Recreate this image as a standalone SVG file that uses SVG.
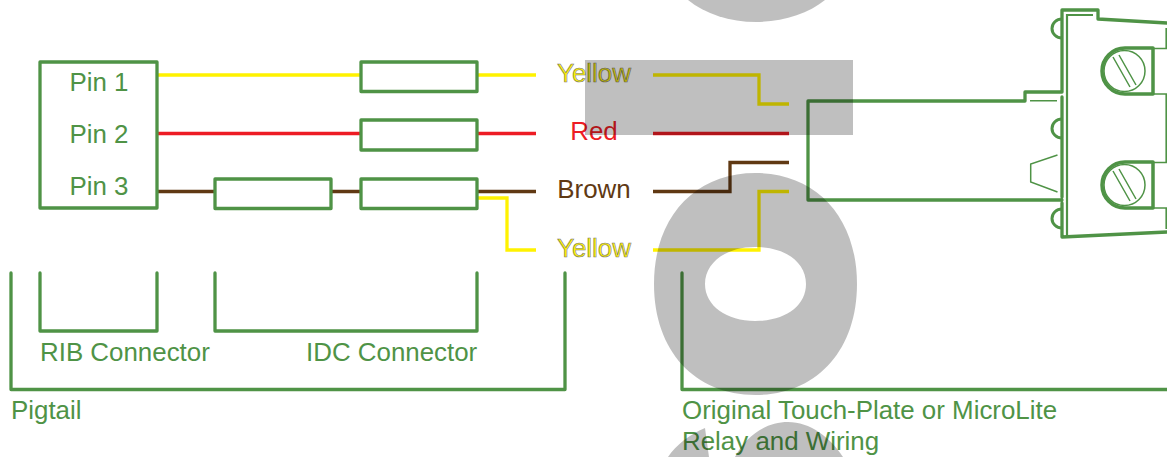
<svg xmlns="http://www.w3.org/2000/svg" width="1167" height="457" viewBox="0 0 1167 457">
<defs>
<g id="screw">
<path class="g4" d="M1153 -23H1125A23 23 0 0 0 1125 23H1153Z"/>
<circle class="t" cx="1124.500" cy="0" r="20.500"/>
<path class="t" d="M1113 -14L1130 16M1119 -16L1136 14"/>
<path class="t" d="M1153 -22.500H1167M1153 23H1167"/>
</g>
</defs>
<style>
text{font-family:"Liberation Sans",Arial,sans-serif;font-size:25.900px;fill:#4f9346}
.c{text-anchor:middle}
.box,.g{fill:none;stroke:#4f9346;stroke-width:3.300;stroke-linejoin:round;stroke-linecap:round}
.g4{fill:none;stroke:#4f9346;stroke-width:3.500;stroke-linejoin:round}
.t{fill:none;stroke:#4f9346;stroke-width:1.500}
.m{fill:none;stroke:#4f9346;stroke-width:2.200}
.w{fill:none;stroke-width:3.300}
.y{stroke:#fff200}.r{stroke:#ed1c24}.b{stroke:#603913}
.wm{fill:#000;fill-opacity:.25}
</style>
<rect width="1167" height="457" fill="#fff"/>
<g id="connectors">
<path class="w y" d="M158 75H361M477 75H536M653 75H759V104H789"/>
<path class="w r" d="M158 133.500H361M477 133.500H536M653 133.500H789"/>
<path class="w b" d="M158 191.500H215M331 191.500H361M477 191.500H536M653 191.500H730V162.500H789"/>
<path class="w y" d="M477 198H507V250H536M653 250H759V191.500H789"/>
</g>
<g id="rib"><rect class="box" x="40" y="62" width="117" height="146"/>
<text class="c" x="99" y="91">Pin 1</text><text class="c" x="99" y="143">Pin 2</text><text class="c" x="99" y="195">Pin 3</text></g>
<g id="idc1"><rect class="box" x="361" y="62" width="116" height="29.500"/></g>
<g id="idc2"><rect class="box" x="361" y="120" width="116" height="30"/></g>
<g id="idc3"><rect class="box" x="361" y="179" width="116" height="29.500"/></g>
<g id="idc4"><rect class="box" x="215" y="179" width="116" height="29.500"/></g>
<g id="labels">
<text class="c" x="594" y="82" style="fill:#fff200;stroke:#777;stroke-width:.6">Yellow</text>
<text class="c" x="594" y="140" style="fill:#ed1c24">Red</text>
<text class="c" x="594" y="198" style="fill:#603913">Brown</text>
<text class="c" x="594" y="257" style="fill:#fff200;stroke:#777;stroke-width:.6">Yellow</text>
</g>
<g id="brackets">
<path class="g" d="M40 273V331H157V273M215 273V331H477V273M11 273V389.500H565V273M682 273V389.500H1167"/>
<text x="40" y="361">RIB Connector</text><text x="306" y="361">IDC Connector</text><text x="11" y="419">Pigtail</text>
<text x="682" y="419">Original Touch-Plate or MicroLite</text><text x="682" y="450">Relay and Wiring</text>
</g>
<g id="relay">
<path class="g" d="M808 200V101H1025V92H1062V10H1098V19L1167 23M808 200H1062M1062 97V197M1062 203V237L1167 232"/>
<path class="m" d="M1093 15H1067V236M1166.500 28V49M1166.500 94V163M1166.500 208V229"/>
<path class="t" d="M1030 100.700H1057M1057.500 155L1030.700 164V182L1057.500 192"/>
<path class="m" style="stroke-width:3" d="M1062 19A10 9.500 0 0 0 1062 38M1062 119A10 9.500 0 0 0 1062 138M1062 209A10 9.500 0 0 0 1062 228"/>
<use href="#screw" y="71"/>
<use href="#screw" y="185"/>
</g>
<g id="watermark">
<path class="wm" d="M585 60H853V135H585Z"/>
<path class="wm" fill-rule="evenodd" d="M654 284C654 217 695 173 755.500 173C816 173 857 217 857 284C857 351 816 395 755.500 395C695 395 654 351 654 284ZM705 284C705 306 727 321 755 321C785 321 806 306 806 284C806 262 785 247 755 247C727 247 705 262 705 284Z"/>
<path class="wm" d="M688 0C705 14 730 22 756 22C782 22 808 14 825 0Z"/>
<path class="wm" d="M668 457C676 445 690 434 705 428L709 457ZM735 457C745 437 765 422 788 422C810 422 830 437 843 457Z"/>
</g>
</svg>
